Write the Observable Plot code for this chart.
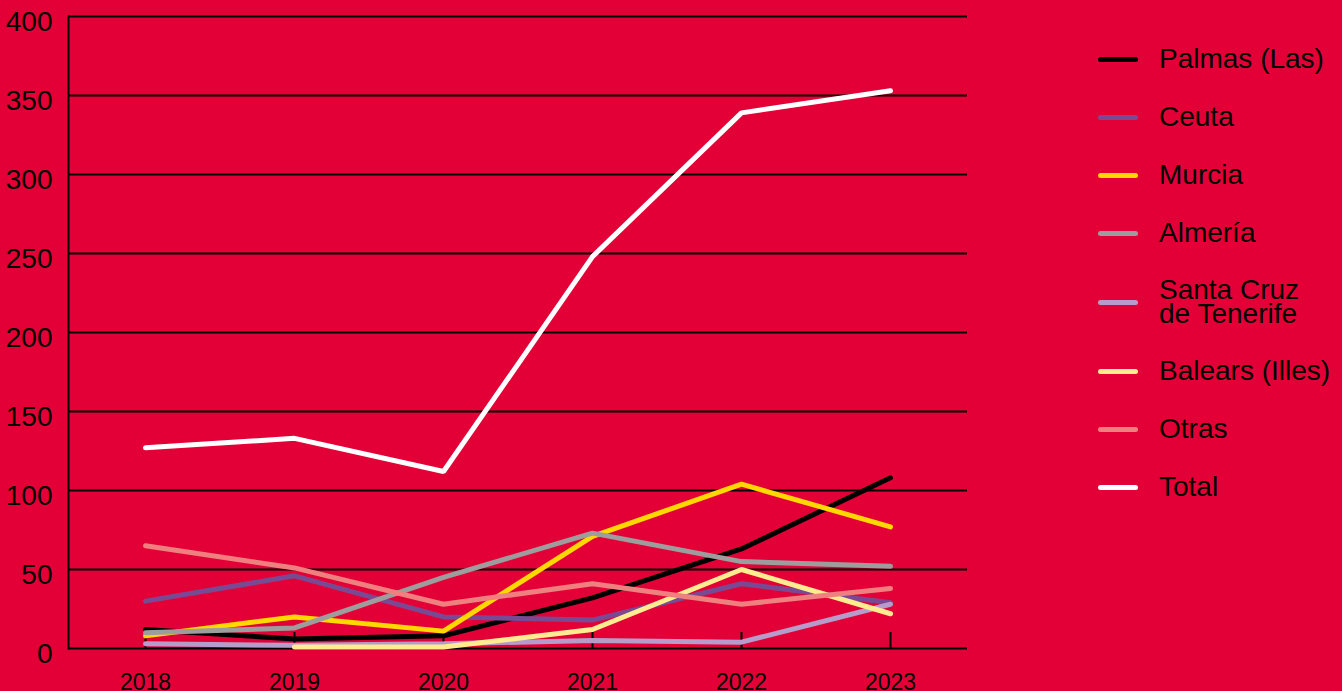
<!DOCTYPE html>
<html>
<head>
<meta charset="utf-8">
<script src="https://cdn.jsdelivr.net/npm/d3@7"></script>
<script src="https://cdn.jsdelivr.net/npm/@observablehq/plot@0.6"></script>
<style>
  html, body { margin: 0; padding: 0; background: #e30037; }
  body { width: 1342px; height: 691px; position: relative; overflow: hidden; font-family: "Liberation Sans", Arial, sans-serif; }
  #chart { position: absolute; left: 0; top: 0; }
  #legend { position: absolute; left: 1098px; top: 30px; }
  .item { display: flex; align-items: center; height: 58px; }
  .item.two { height: 80px; }
  .sw { width: 40px; height: 5px; border-radius: 3px; margin-right: 21px; flex: none; }
  .lab { font-size: 28px; line-height: 24px; color: #000; white-space: nowrap; }
</style>
</head>
<body>
<div id="chart"></div>
<div id="legend"></div>
<script>
const years = [2018, 2019, 2020, 2021, 2022, 2023];
const series = ["Palmas (Las)", "Ceuta", "Murcia", "Almería", "Santa Cruz de Tenerife", "Balears (Illes)", "Otras", "Total"];
const legendLabels = ["Palmas (Las)", "Ceuta", "Murcia", "Almería", "Santa Cruz<br>de Tenerife", "Balears (Illes)", "Otras", "Total"];
const colors = ["#000000", "#7a4993", "#ffd800", "#9d9d9d", "#b69cca", "#ffec90", "#f07f7f", "#ffffff"];

const palmas    = [12, 6, 8, 32, 63, 108];
const ceuta     = [30, 46, 20, 18, 41, 29];
const murcia    = [8, 20, 11, 71, 104, 77];
const almeria   = [10, 13, 45, 73, 55, 52];
const santaCruz = [3, 2, 3, 5, 4, 28];
const balears   = [null, 1, 1, 12, 50, 22];
const otras     = [65, 51, 28, 41, 28, 38];
const total     = [127, 133, 112, 248, 339, 353];
const yTicks = [0, 50, 100, 150, 200, 250, 300, 350, 400];

const values = [palmas, ceuta, murcia, almeria, santaCruz, balears, otras, total];
const data = [];
series.forEach((s, i) => years.forEach((yr, j) => {
  if (values[i][j] != null) data.push({series: s, year: yr, value: values[i][j]});
}));

const chart = Plot.plot({
  width: 1000,
  height: 691,
  marginLeft: 68,
  marginRight: 33,
  marginTop: 16,
  marginBottom: 43,
  style: {background: "transparent", fontFamily: "Liberation Sans, Arial, sans-serif", color: "#000"},
  x: {type: "point", domain: years, padding: 0.5, label: null},
  y: {domain: [0, 400], ticks: yTicks, label: null},
  color: {domain: series, range: colors},
  marks: [
    Plot.gridY(yTicks, {stroke: "#000", strokeOpacity: 1, strokeWidth: 2}),
    Plot.frame({anchor: "left", stroke: "#000", strokeWidth: 2}),
    Plot.ruleX(years, {x: d => d, stroke: "#000", strokeWidth: 2, insetTop: 616}),
    Plot.axisY(yTicks, {tickSize: 0, tickPadding: 16, fontSize: 28, dy: 6, fill: "#000", label: null}),
    Plot.axisX(years, {tickSize: 0, tickPadding: 25, fontSize: 23, fill: "#000", tickFormat: d => String(d), label: null}),
    Plot.line(data, {x: "year", y: "value", z: "series", stroke: "series", strokeWidth: 5, strokeLinecap: "round", strokeLinejoin: "miter"})
  ]
});
document.getElementById("chart").appendChild(chart);

const leg = document.getElementById("legend");
series.forEach((s, i) => {
  const item = document.createElement("div");
  item.className = "item" + (legendLabels[i].includes("<br>") ? " two" : "");
  item.innerHTML = `<div class="sw" style="background:${colors[i]}"></div><div class="lab">${legendLabels[i]}</div>`;
  leg.appendChild(item);
});
</script>
</body>
</html>
